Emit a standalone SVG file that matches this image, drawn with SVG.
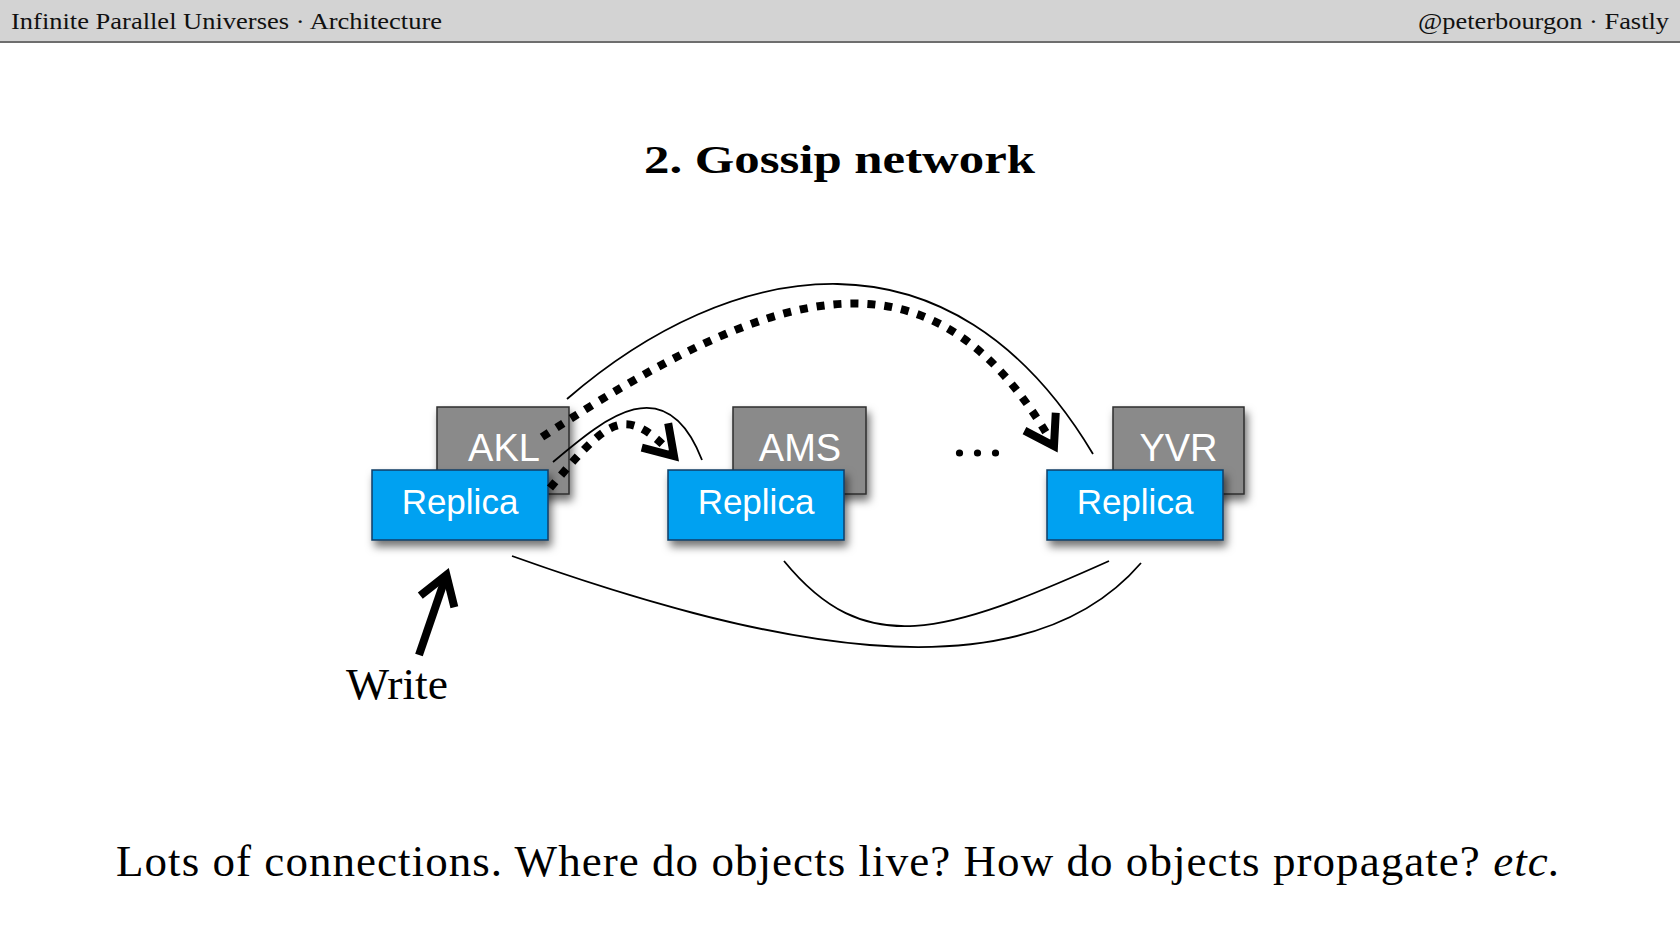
<svg xmlns="http://www.w3.org/2000/svg" width="1680" height="945" viewBox="0 0 1680 945">
<defs>
<style>
.bar{fill:#d3d3d3}
.barline{stroke:#6e6e6e;stroke-width:2}
.hdr{font-family:"Liberation Serif","Times New Roman",serif;font-size:24px;fill:#111}
.title{font-family:"Liberation Serif","Times New Roman",serif;font-size:40px;font-weight:bold;fill:#000}
.body{font-family:"Liberation Serif","Times New Roman",serif;font-size:45px;fill:#000}
.host{fill:#8a8a8a;stroke:#2e2e2e;stroke-width:1.5;filter:url(#shadow)}
.replica{fill:#00a1f1;stroke:#0a3d66;stroke-width:1.5;filter:url(#shadow)}
.lbl{font-family:"Liberation Sans",Arial,sans-serif;fill:#fff;text-anchor:middle}
.hostlbl{font-size:38px}
.replbl{font-size:35px}
.thin{fill:none;stroke:#000;stroke-width:1.8}
.dotted{fill:none;stroke:#000;stroke-width:8;stroke-dasharray:8 9}
.thick{fill:none;stroke:#000;stroke-width:8}
.chev{fill:none;stroke:#000;stroke-width:8;stroke-linejoin:miter;stroke-miterlimit:10}
</style>
<filter id="shadow" x="-20%" y="-20%" width="150%" height="170%">
<feDropShadow dx="3" dy="6" stdDeviation="4" flood-color="#000" flood-opacity="0.55"/>
</filter>
<marker id="arrow" markerUnits="userSpaceOnUse" markerWidth="60" markerHeight="60" refX="0" refY="0" orient="auto" style="overflow:visible">
<path class="chev" d="M -28 -18 L 0 0 L -28 18"/>
</marker>
</defs>

<g id="header">
<rect class="bar" x="0" y="0" width="1680" height="42"/>
<line class="barline" x1="0" y1="42" x2="1680" y2="42"/>
<text class="hdr" x="11" y="28.5" textLength="431" lengthAdjust="spacingAndGlyphs">Infinite Parallel Universes · Architecture</text>
<text class="hdr" x="1669" y="28.5" text-anchor="end" textLength="251" lengthAdjust="spacingAndGlyphs">@peterbourgon · Fastly</text>
</g>

<text class="title" x="644" y="173" textLength="391" lengthAdjust="spacingAndGlyphs">2. Gossip network</text>

<g id="node-akl">
<rect class="host" x="437" y="407" width="132" height="87"/>
<text class="lbl hostlbl" x="504" y="461">AKL</text>
<g id="replica-akl">
<rect class="replica" x="372" y="470" width="176" height="70"/>
<text class="lbl replbl" x="460" y="514">Replica</text>
</g>
</g>

<g id="node-ams">
<rect class="host" x="733" y="407" width="133" height="87"/>
<text class="lbl hostlbl" x="800" y="461">AMS</text>
<g id="replica-ams">
<rect class="replica" x="668" y="470" width="176" height="70"/>
<text class="lbl replbl" x="756" y="514">Replica</text>
</g>
</g>

<g id="node-yvr">
<rect class="host" x="1113" y="407" width="131" height="87"/>
<text class="lbl hostlbl" x="1178.5" y="461">YVR</text>
<g id="replica-yvr">
<rect class="replica" x="1047" y="470" width="176" height="70"/>
<text class="lbl replbl" x="1135" y="514">Replica</text>
</g>
</g>

<g id="ellipsis" fill="#000">
<circle cx="959.5" cy="453" r="3.6"/>
<circle cx="977.5" cy="453" r="3.6"/>
<circle cx="995.5" cy="453" r="3.6"/>
</g>

<g id="connectors">
<path class="thin" d="M 567 399 C 730 258, 950 215, 1093 454"/>
<path class="dotted" d="M 542 437 C 768 290, 929 227, 1054 446" marker-end="url(#arrow)"/>
<path class="thin" d="M 553 462 C 602 421, 665 365, 702 460"/>
<path class="dotted" d="M 550 488 C 608 420, 624 402, 674 456" marker-end="url(#arrow)"/>
<path class="thin" d="M 512 556 C 750 641, 1018 706, 1141 563"/>
<path class="thin" d="M 784 561 C 865 660, 944 635, 1109 561"/>
<path class="thick" d="M 419 655 L 446.4 575" marker-end="url(#arrow)"/>
</g>

<text class="body" x="346" y="699" textLength="102" lengthAdjust="spacingAndGlyphs">Write</text>

<text class="body" x="116" y="876" textLength="1444">Lots of connections. Where do objects live? How do objects propagate? <tspan font-style="italic">etc.</tspan></text>
</svg>
